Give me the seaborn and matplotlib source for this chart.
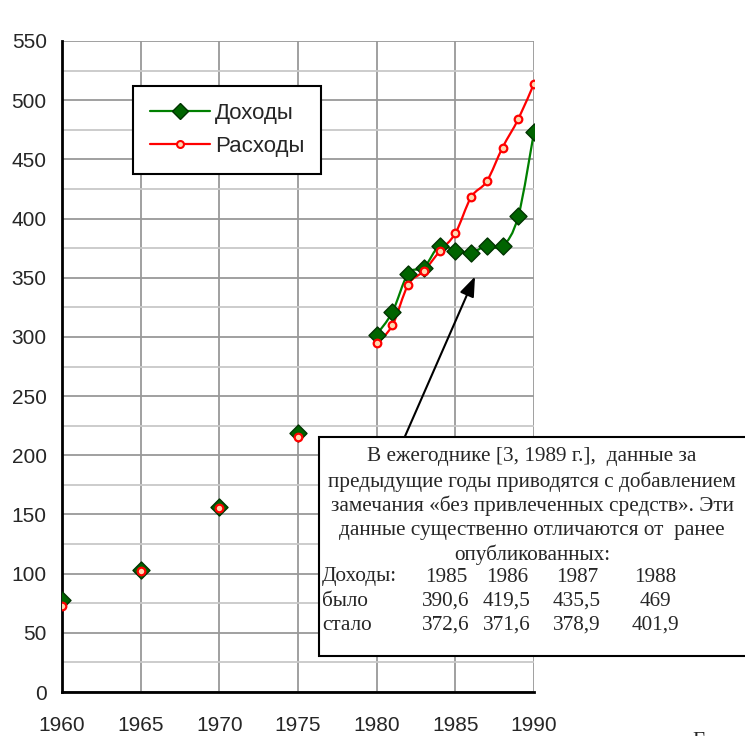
import numpy as np
import matplotlib
matplotlib.use('Agg')
import matplotlib.pyplot as plt
from matplotlib.path import Path
from matplotlib.patches import PathPatch, Rectangle
from matplotlib.lines import Line2D
import seaborn as sns

# data
years = [1960, 1965, 1970, 1975, 1980, 1981, 1982, 1983, 1984, 1985,
         1986, 1987, 1988, 1989, 1990]
income = [78, 103, 156, 219, 302, 321, 353.5, 358.5, 377, 372.8,
          371.2, 377, 376.5, 402, 473]
spend = [73, 102, 155.5, 215.5, 294.6, 309.8, 344, 355.7, 372.3, 387.5,
         418, 431.5, 460, 484, 514]

labels = ['Доходы', 'Расходы']
note_lines = ['В ежегоднике [3, 1989 г.],  данные за',
              'предыдущие годы приводятся с добавлением',
              'замечания «без привлеченных средств». Эти',
              'данные существенно отличаются от  ранее',
              'опубликованных:']
tbl_rows = ['Доходы:', 'было', 'стало']
tbl_cells = [['1985', '1986', '1987', '1988'],
             ['390,6', '419,5', '435,5', '469'],
             ['372,6', '371,6', '378,9', '401,9']]

W, H = 745, 736


def px(x, y):
    return x / W, 1 - y / H


def smooth_path(xs, ys):
    # Excel-like smoothed line over consecutive years
    pts = np.column_stack([xs, ys]).astype(float)
    n = len(pts)
    verts = [pts[0]]
    codes = [Path.MOVETO]
    for i in range(n - 1):
        p0 = pts[i - 1] if i > 0 else pts[i]
        p3 = pts[i + 2] if i + 2 < n else pts[i + 1]
        c1 = pts[i] + (pts[i + 1] - p0) / 6
        c2 = pts[i + 1] - (p3 - pts[i]) / 6
        verts += [c1, c2, pts[i + 1]]
        codes += [Path.CURVE4] * 3
    return Path(verts, codes)


sns.set_style('white')
plt.rcParams['font.family'] = ['Liberation Sans', 'DejaVu Sans']

fig = plt.figure(figsize=(W / 100, H / 100), dpi=100)
ax = fig.add_axes([62 / W, 44 / H, 472 / W, 651 / H])

yrs = np.array(years)
run = yrs >= 1980
for vals, col in [(income, '#008000'), (spend, '#ff0000')]:
    v = np.array(vals)
    ax.add_patch(PathPatch(smooth_path(yrs[run], v[run]), fill=False,
                           edgecolor=col, lw=1.6, zorder=3))

sns.scatterplot(x=years, y=income, marker='D', s=75, color='#006400',
                edgecolor='#003300', linewidth=1, ax=ax, zorder=4)
sns.scatterplot(x=years, y=spend, marker='o', s=30, color='#ffd8b0',
                edgecolor='#ff0000', linewidth=1.6, ax=ax, zorder=5)

ax.set_xlim(1960, 1990)
ax.set_ylim(0, 550)
ax.set_xticks(range(1960, 1991, 5))
ax.set_yticks(range(0, 551, 50))
ax.set_yticks(range(25, 551, 50), minor=True)
ax.grid(True, which='major', color='#999999', lw=1.3)
ax.grid(True, which='minor', axis='y', color='#c8c8c8', lw=1.3)
ax.tick_params(axis='both', which='major', direction='out', length=5,
               width=1.5, color='black', labelsize=15, pad=6)
ax.tick_params(axis='x', pad=12)
ax.tick_params(which='minor', length=0)
for s in ['top', 'right']:
    ax.spines[s].set_visible(False)
for s in ['left', 'bottom']:
    ax.spines[s].set_color('black')
    ax.spines[s].set_linewidth(2)

handles = [Line2D([], [], color='#008000', lw=1.6, marker='D', markersize=8,
                  markerfacecolor='#006400', markeredgecolor='#003300'),
           Line2D([], [], color='#ff0000', lw=1.6, marker='o', markersize=5,
                  markerfacecolor='#ffd8b0', markeredgecolor='#ff0000',
                  markeredgewidth=1.5)]
leg = ax.legend(handles, labels, loc='upper left',
                bbox_to_anchor=px(133, 86), bbox_transform=fig.transFigure,
                frameon=True, fancybox=False, framealpha=1, edgecolor='black',
                borderaxespad=0, fontsize=16, handlelength=2.7,
                handletextpad=0.25, labelspacing=0.55, borderpad=0.75)
leg.get_frame().set_linewidth(1.5)
leg.set_zorder(10)

# arrow to the flat part of income
ax.annotate('', xy=(1986.25, 351), xytext=(1981.8, 216),
            arrowprops=dict(arrowstyle='-|>,head_length=1.2,head_width=0.45',
                            color='black', lw=1.5, shrinkA=0, shrinkB=0),
            zorder=6, annotation_clip=False)

x0, y0 = px(319, 656)
x1, y1 = px(770, 437)
fig.add_artist(Rectangle((x0, y0), x1 - x0, y1 - y0, transform=fig.transFigure,
                         facecolor='white', edgecolor='black', lw=1.5,
                         zorder=20))
serif = ['Liberation Serif', 'DejaVu Serif']
for i, line in enumerate(note_lines):
    fig.text(*px(532, 457 + 24.5 * i), line, ha='center', va='center',
             fontsize=15.3, family=serif, zorder=21)
col_x = [446, 507, 577, 655]
for r, name in enumerate(tbl_rows):
    yy = 577 + 24 * r
    fig.text(*px(322, yy), name, ha='left', va='center', fontsize=15.3,
             family=serif, zorder=21)
    for c, cell in enumerate(tbl_cells[r]):
        fig.text(*px(col_x[c], yy), cell, ha='center', va='center',
                 fontsize=15.3, family=serif, zorder=21)

fig.text(*px(692, 732), 'Годы', ha='left', va='top', fontsize=15,
         family=serif)

fig.savefig('out.png', dpi=100)
